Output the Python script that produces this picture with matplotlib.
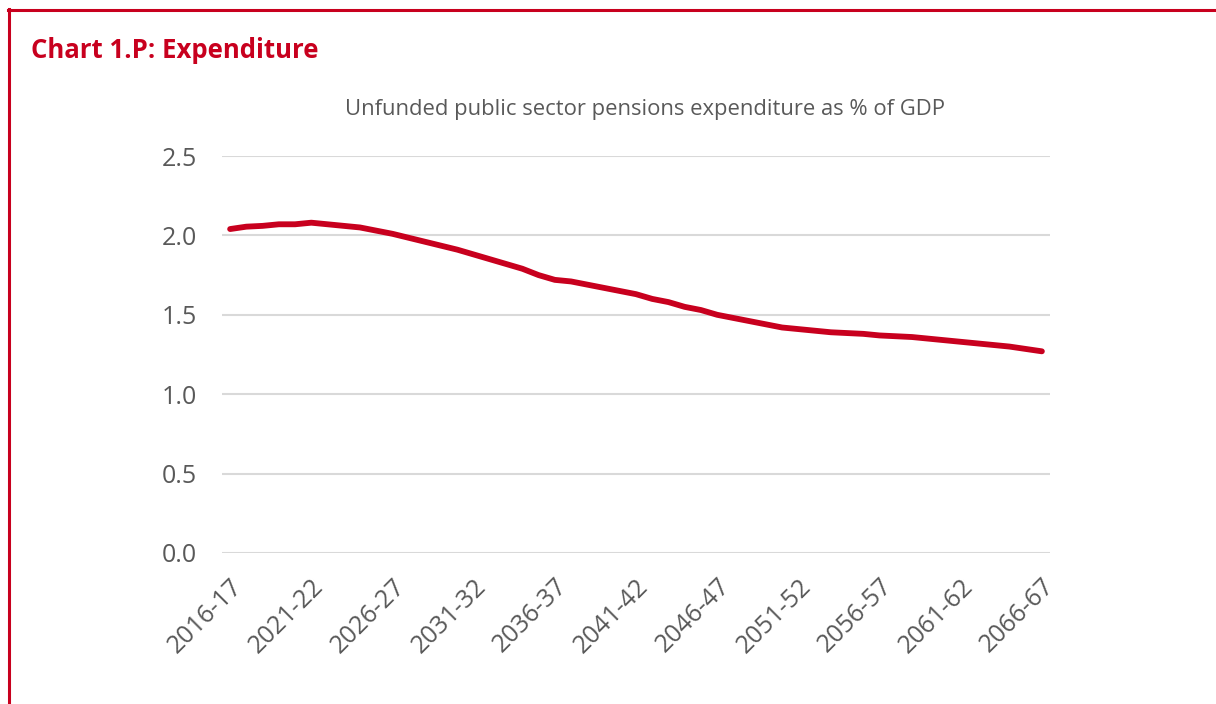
import matplotlib.pyplot as plt
from matplotlib.lines import Line2D

RED = "#C8001E"
GREY = "#595959"

# financial years 2016-17 .. 2066-67
years = [f"{y}-{(y + 1) % 100:02d}" for y in range(2016, 2067)]
expenditure = [
    2.04, 2.055, 2.06, 2.07, 2.07, 2.08, 2.07, 2.06, 2.05, 2.03,
    2.01, 1.985, 1.96, 1.935, 1.91, 1.88, 1.85, 1.82, 1.79, 1.75,
    1.72, 1.71, 1.69, 1.67, 1.65, 1.63, 1.60, 1.58, 1.55, 1.53,
    1.50, 1.48, 1.46, 1.44, 1.42, 1.41, 1.40, 1.39, 1.385, 1.38,
    1.37, 1.365, 1.36, 1.35, 1.34, 1.33, 1.32, 1.31, 1.30, 1.285,
    1.27,
]
yticks = [0.0, 0.5, 1.0, 1.5, 2.0, 2.5]

plt.rcParams["font.family"] = ["Open Sans", "DejaVu Sans"]

fig = plt.figure(figsize=(12.16, 7.04), dpi=100)
ax = fig.add_axes([222 / 1216, 1 - 553 / 704, 828 / 1216, 397 / 704])

x = list(range(len(years)))
ax.plot(x, expenditure, color=RED, linewidth=4.2, solid_capstyle="round")

ax.set_xlim(-0.5, len(years) - 0.5)
ax.set_ylim(0, 2.5)
ax.set_yticks(yticks)
ax.set_yticklabels([f"{v:.1f}" for v in yticks], fontsize=18, color=GREY)
ax.set_xticks(x[::5])
ax.set_xticklabels(years[::5], rotation=45, ha="right", va="top",
                   rotation_mode="anchor", fontsize=18, color=GREY)
ax.tick_params(length=0)
ax.tick_params(axis="x", pad=15)
ax.tick_params(axis="y", pad=18)
ax.grid(axis="y", color="#D9D9D9", linewidth=1.5)
ax.set_axisbelow(True)
for s in ax.spines.values():
    s.set_visible(False)

fig.text(645 / 1216, 1 - 110 / 704,
         "Unfunded public sector pensions expenditure as % of GDP",
         ha="center", va="center", fontsize=15.8, color=GREY)
fig.text(31 / 1216, 1 - 50 / 704, "Chart 1.P: Expenditure",
         ha="left", va="center", fontsize=18.5, fontweight="bold", color=RED)

# red frame (top and left)
fig.add_artist(Line2D([8 / 1216, 1], [1 - 9.5 / 704] * 2, color=RED,
                      linewidth=2.2, transform=fig.transFigure))
fig.add_artist(Line2D([9 / 1216] * 2, [0, 1 - 8.5 / 704], color=RED,
                      linewidth=2.2, transform=fig.transFigure))

fig.savefig("out.png", dpi=100)
